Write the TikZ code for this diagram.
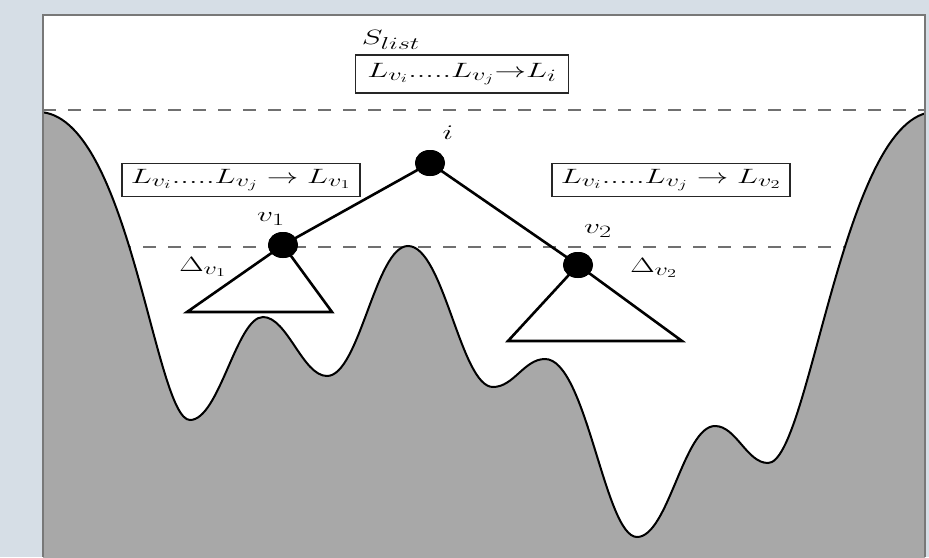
\documentclass[tikz,border=0pt]{standalone}
\usepackage{graphicx}
\usetikzlibrary{shapes.geometric}
\DeclareMathSizes{20}{20}{17.6}{13}
\definecolor{bgc}{RGB}{214,222,230}
\definecolor{hillc}{RGB}{168,168,168}
\definecolor{dashc}{RGB}{112,112,112}
\definecolor{framec}{RGB}{120,120,120}
\newcommand{\hx}[1]{\scalebox{1.52}[1]{#1}}
\begin{document}
\begin{tikzpicture}[x=1pt,y=-1pt,
  dashline/.style={dashc, line width=2pt, dash pattern=on 12.5pt off 12.5pt},
  hillline/.style={draw=black, fill=hillc, line width=2pt},
  treeline/.style={black, line width=2.6pt, line join=miter},
  dot/.style={ellipse, fill=black, minimum width=30pt, minimum height=26pt, inner sep=0pt},
  lab/.style={font=\fontsize{20}{24}\selectfont, inner sep=0pt},
  listbox/.style={draw=black!85, line width=1.1pt, font=\fontsize{20}{24}\selectfont, inner sep=0pt, minimum height=33pt},
  panel/.style={framec, line width=1.5pt}]
\useasboundingbox (0,0) rectangle (929,557);
\fill[bgc] (0,0) rectangle (929,557);
\fill[white] (43,15) rectangle (925,557);
% dashed levels
\draw[dashline] (43,110) -- (925,110);
\draw[dashline] (43,247) -- (925,247);
% landscape (closing edges lie outside the clip)
\begin{scope}
\clip (43,15) rectangle (925,557);
\path[hillline] (38,112)
  .. controls (129,112) and (155,420) .. (190,420)
  .. controls (219.2,420) and (236.7,317) .. (263,317)
  .. controls (287.3,317) and (302.7,376) .. (327,376)
  .. controls (359.4,376) and (375.6,246) .. (408,246)
  .. controls (443.7,246) and (460.7,387) .. (493,387)
  .. controls (513.8,387) and (524.2,359) .. (545,359)
  .. controls (586.4,359) and (604.8,537) .. (637,537)
  .. controls (668.2,537) and (683.8,426) .. (715,426)
  .. controls (736.2,426) and (746.8,463) .. (768,463)
  .. controls (809.75,463) and (843.2,112) .. (935,112)
  -- (935,565) -- (38,565) -- cycle;
\end{scope}
% frame
\draw[panel] (43,557) -- (43,15) -- (925,15) -- (925,557);
% tree
\node[dot] (i) at (430,163) {};
\node[dot] (v1) at (283,245) {};
\node[dot] (v2) at (578,265) {};
\coordinate (t1l) at (187,312);
\coordinate (t1r) at (332,312);
\coordinate (t2l) at (508,341);
\coordinate (t2r) at (682,341);
\draw[treeline] (i.center) -- (v1.center);
\draw[treeline] (i.center) -- (v2.center);
\draw[treeline] (v1.center) -- (t1l) -- (t1r) -- cycle;
\draw[treeline] (v2.center) -- (t2l) -- (t2r) -- cycle;
\node[dot] at (i) {};
\node[dot] at (v1) {};
\node[dot] at (v2) {};
% labels
\node[lab] (li) at (448,133) {\hx{$i$}};
\node[lab] (lv1) at (271,219) {\hx{$v_1$}};
\node[lab] (lv2) at (598,231) {\hx{$v_2$}};
\node[lab] (d1) at (203,267) {\hx{$\Delta_{v_1}$}};
\node[lab] (d2) at (654,268) {\hx{$\Delta_{v_2}$}};
\node[lab] (sl) at (391,40) {\hx{$S_{list}$}};
% boxes
\node[listbox, minimum width=213pt, minimum height=38pt] (bt) at (462,74) {\hx{$L_{v_i}.....L_{v_j}\mathord{\to} L_i$}};
\node[listbox, minimum width=238pt] (bl) at (241,180) {\hx{$L_{v_i}.....L_{v_j}\to L_{v_1}$}};
\node[listbox, minimum width=238pt] (br) at (671,180) {\hx{$L_{v_i}.....L_{v_j}\to L_{v_2}$}};
\end{tikzpicture}
\end{document}
